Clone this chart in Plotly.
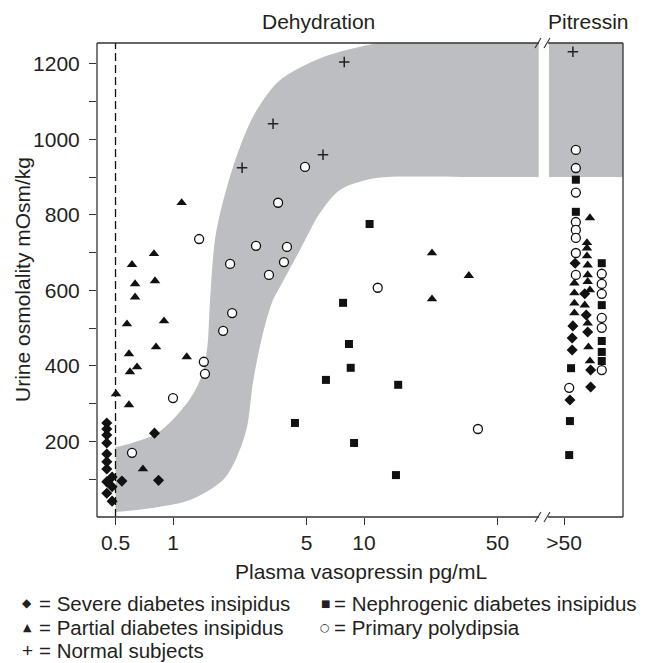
import plotly.graph_objects as go

# ---------------- data ----------------
# Dehydration test (left panel, plasma vasopressin pg/mL vs urine osmolality mOsm/kg)
severe_x = [0.45, 0.45, 0.45, 0.45, 0.45, 0.45, 0.45, 0.48, 0.45, 0.48, 0.45, 0.48, 0.54, 0.80, 0.84]
severe_y = [249, 233, 217, 196, 167, 146, 127, 106, 93, 80, 63, 42, 95, 222, 97]

partial_x = [1.11, 0.61, 0.795, 0.633, 0.805, 0.633, 0.574, 0.897, 0.815, 0.588, 1.18, 0.648,
             0.595, 0.503, 0.588, 0.696, 22.7, 35.4, 22.7]
partial_y = [832, 668, 697, 617, 625, 582, 511, 519, 450, 432, 424, 397,
             384, 326, 297, 127, 699, 639, 577]

nephro_x = [10.7, 7.77, 8.34, 8.52, 6.32, 15.1, 4.35, 8.87, 14.7]
nephro_y = [776, 567, 458, 395, 363, 350, 249, 196, 111]

primary_x = [1.37, 1.99, 2.72, 3.55, 4.91, 3.18, 3.95, 3.81, 2.04, 1.83, 1.45, 1.47, 1.0, 0.61, 11.8, 39.5]
primary_y = [736, 670, 718, 832, 927, 641, 715, 675, 540, 493, 411, 379, 315, 170, 607, 233]

normal_x = [2.30, 3.34, 6.10, 7.88]
normal_y = [925, 1041, 959, 1205]

# Pitressin (right panel, ">50" column; x is the horizontal spread within the column)
pit_severe_x = [0.15, 0.12, 0.11, 0.11, 0.08, 0.28, 0.30, 0.32, 0.36, 0.36]
pit_severe_y = [672, 506, 474, 442, 310, 591, 535, 490, 389, 344]

pit_partial_x = [0.14, 0.14, 0.14, 0.14, 0.35, 0.31, 0.31, 0.31, 0.32, 0.32, 0.32, 0.35, 0.28, 0.32, 0.33, 0.35]
pit_partial_y = [619, 593, 566, 540, 792, 726, 712, 691, 667, 641, 623, 601, 561, 513, 450, 413]

pit_nephro_x = [0.16, 0.16, 0.095, 0.08, 0.07, 0.51, 0.51, 0.51, 0.51, 0.51]
pit_nephro_y = [893, 808, 394, 254, 164, 672, 561, 466, 437, 413]

pit_primary_x = [0.16, 0.16, 0.16, 0.16, 0.16, 0.16, 0.16, 0.16, 0.07, 0.51, 0.51, 0.51, 0.51, 0.51, 0.51]
pit_primary_y = [972, 924, 859, 781, 760, 739, 699, 641, 342, 644, 617, 591, 527, 501, 389]

pit_normal_x = [0.12]
pit_normal_y = [1232]

# Normal response band: lower and upper edges (both left -> right)
band_lower_x = [0.5, 0.824, 1.227, 1.827, 2.16, 2.44, 2.62, 2.96, 3.34, 3.63, 4.62, 5.88, 7.49, 10.4, 13.2, 40, 300]
band_lower_y = [13, 26, 45, 98, 159, 238, 355, 487, 575, 609, 707, 805, 866, 893, 900, 900, 900]
band_upper_x = [0.5, 0.824, 1.184, 1.385, 1.506, 1.563, 1.679, 2.061, 2.623, 3.505, 4.627, 6.636, 12.14, 25, 300]
band_upper_y = [185, 222, 302, 363, 442, 575, 752, 927, 1060, 1150, 1190, 1224, 1256, 1275, 1275]
pit_band_y = [900, 1255]

x_tickvals = [0.5, 1, 5, 10, 50]
x_ticktext = ["0.5", "1", "5", "10", "50"]
y_tickvals = list(range(100, 1300, 100))
y_ticktext = [str(v) if v % 200 == 0 else "" for v in y_tickvals]

# ---------------- styling ----------------
FONT = "Liberation Sans, Arial, Helvetica, sans-serif"
TXT = "#231f20"
INK = "#111111"
GRAY = "rgb(189,190,193)"
FS = 21
LEG_FS = 20.5

W, H = 649, 663
ML, MR, MT, MB = 97, 26, 43, 146
PW, PH = W - ML - MR, H - MT - MB


def px(x):
    return (x - ML) / PW


def py(y):
    return (H - MB - y) / PH


fig = go.Figure()

# band: lower edge first, upper edge filled down to it
fig.add_trace(go.Scatter(
    x=band_lower_x, y=band_lower_y, mode="lines",
    line=dict(width=0, shape="spline", smoothing=0.9, color=GRAY),
    hoverinfo="skip", showlegend=False, xaxis="x", yaxis="y"))
fig.add_trace(go.Scatter(
    x=band_upper_x, y=band_upper_y, mode="lines", fill="tonexty", fillcolor=GRAY,
    line=dict(width=0, shape="spline", smoothing=0.9, color=GRAY),
    hoverinfo="skip", showlegend=False, xaxis="x", yaxis="y"))

fig.add_trace(go.Scatter(
    x=[0.5, 0.5], y=[0, 1255], mode="lines",
    line=dict(color=INK, width=1.3, dash="8px,4px"),
    hoverinfo="skip", showlegend=False, xaxis="x", yaxis="y"))

groups = [
    ("Severe diabetes insipidus", severe_x, severe_y, pit_severe_x, pit_severe_y,
     dict(symbol="diamond", size=8.5, color=INK)),
    ("Partial diabetes insipidus", partial_x, partial_y, pit_partial_x, pit_partial_y,
     dict(symbol="triangle-up", size=9.2, color=INK)),
    ("Nephrogenic diabetes insipidus", nephro_x, nephro_y, pit_nephro_x, pit_nephro_y,
     dict(symbol="square", size=8, color=INK)),
    ("Primary polydipsia", primary_x, primary_y, pit_primary_x, pit_primary_y,
     dict(symbol="circle", size=9, color="white", line=dict(color=INK, width=1.3))),
    ("Normal subjects", normal_x, normal_y, pit_normal_x, pit_normal_y,
     dict(symbol="cross-thin", size=7.5, color=INK, line=dict(color="#222", width=1.5))),
]

for name, gx, gy, rx, ry, mk in groups:
    fig.add_trace(go.Scatter(x=gx, y=gy, mode="markers", marker=mk, name=name,
                             showlegend=False, xaxis="x", yaxis="y"))
    fig.add_trace(go.Scatter(x=rx, y=ry, mode="markers", marker=mk, name=name,
                             showlegend=False, xaxis="x2", yaxis="y"))

# ---------------- frame with axis break ----------------
LINE = dict(color="#333333", width=1.3)
shapes = [
    dict(type="rect", xref="x2 domain", yref="y", x0=0, x1=1, y0=pit_band_y[0], y1=pit_band_y[1],
         fillcolor=GRAY, line=dict(width=0), layer="below"),
    dict(type="line", xref="paper", yref="paper", x0=0, x1=0, y0=0, y1=1, line=LINE),
    dict(type="line", xref="paper", yref="paper", x0=1, x1=1, y0=0, y1=1, line=LINE),
    dict(type="line", xref="paper", yref="paper", x0=0, x1=px(539), y0=1, y1=1, line=LINE),
    dict(type="line", xref="paper", yref="paper", x0=px(548), x1=1, y0=1, y1=1, line=LINE),
    dict(type="line", xref="paper", yref="paper", x0=0, x1=px(539), y0=0, y1=0, line=LINE),
    dict(type="line", xref="paper", yref="paper", x0=px(548), x1=1, y0=0, y1=0, line=LINE),
]
for cx in (538, 547):
    for cy in (43, 517):
        shapes.append(dict(type="line", xref="paper", yref="paper",
                           x0=px(cx - 3), y0=py(cy + 5), x1=px(cx + 3), y1=py(cy - 5),
                           line=dict(color="#333333", width=1.1)))

# ---------------- text ----------------
def ann(text, x, y, size=FS, xanchor="center", angle=0, family=FONT):
    return dict(text=text, x=px(x), y=py(y), xref="paper", yref="paper",
                xanchor=xanchor, yanchor="middle", showarrow=False, textangle=angle,
                borderpad=0, font=dict(family=family, size=size, color=TXT))


SYM = "DejaVu Sans"
ROW1, ROW2, ROW3 = 603, 627, 651
annotations = [
    ann("Dehydration", 318, 22),
    ann("Pitressin", 588, 22),
    ann("Urine osmolality mOsm/kg", 22, 280, angle=-90),
    ann("Plasma vasopressin pg/mL", 361, 571),
    ann("\u25c6", 27, ROW1, size=12, family=SYM),
    ann("= Severe diabetes insipidus", 38, ROW1, size=LEG_FS, xanchor="left"),
    ann("\u25b2", 27, ROW2, size=11, family=SYM),
    ann("= Partial diabetes insipidus", 38, ROW2, size=LEG_FS, xanchor="left"),
    ann("+", 27, ROW3, size=19),
    ann("= Normal subjects", 38, ROW3, size=LEG_FS, xanchor="left"),
    ann("\u25a0", 325, ROW1, size=10, family=SYM),
    ann("= Nephrogenic diabetes insipidus", 333, ROW1, size=LEG_FS, xanchor="left"),
    ann("\u25cb", 325, ROW2, size=11, family=SYM),
    ann("= Primary polydipsia", 333, ROW2, size=LEG_FS, xanchor="left"),
]

AX = dict(showgrid=False, zeroline=False, showline=False, ticks="outside", ticklen=7,
          tickwidth=1.2, tickcolor="#333333",
          tickfont=dict(family=FONT, size=FS, color=TXT))

fig.update_layout(
    width=W, height=H,
    margin=dict(l=ML, r=MR, t=MT, b=MB, pad=0),
    paper_bgcolor="white", plot_bgcolor="white",
    showlegend=False,
    xaxis=dict(AX, type="log", domain=[0, px(538.7)], range=[-0.398, 1.9147],
               tickmode="array", tickvals=x_tickvals, ticktext=x_ticktext, anchor="y"),
    xaxis2=dict(AX, type="linear", domain=[px(549), 1], range=[-0.203, 0.797],
                tickmode="array", tickvals=[0], ticktext=[">50"], anchor="y"),
    yaxis=dict(AX, range=[0, 1255], tickmode="array", tickvals=y_tickvals,
               ticktext=y_ticktext, ticklabelstandoff=5, anchor="x"),
    shapes=shapes,
    annotations=annotations,
)

fig.write_html("out.html")
